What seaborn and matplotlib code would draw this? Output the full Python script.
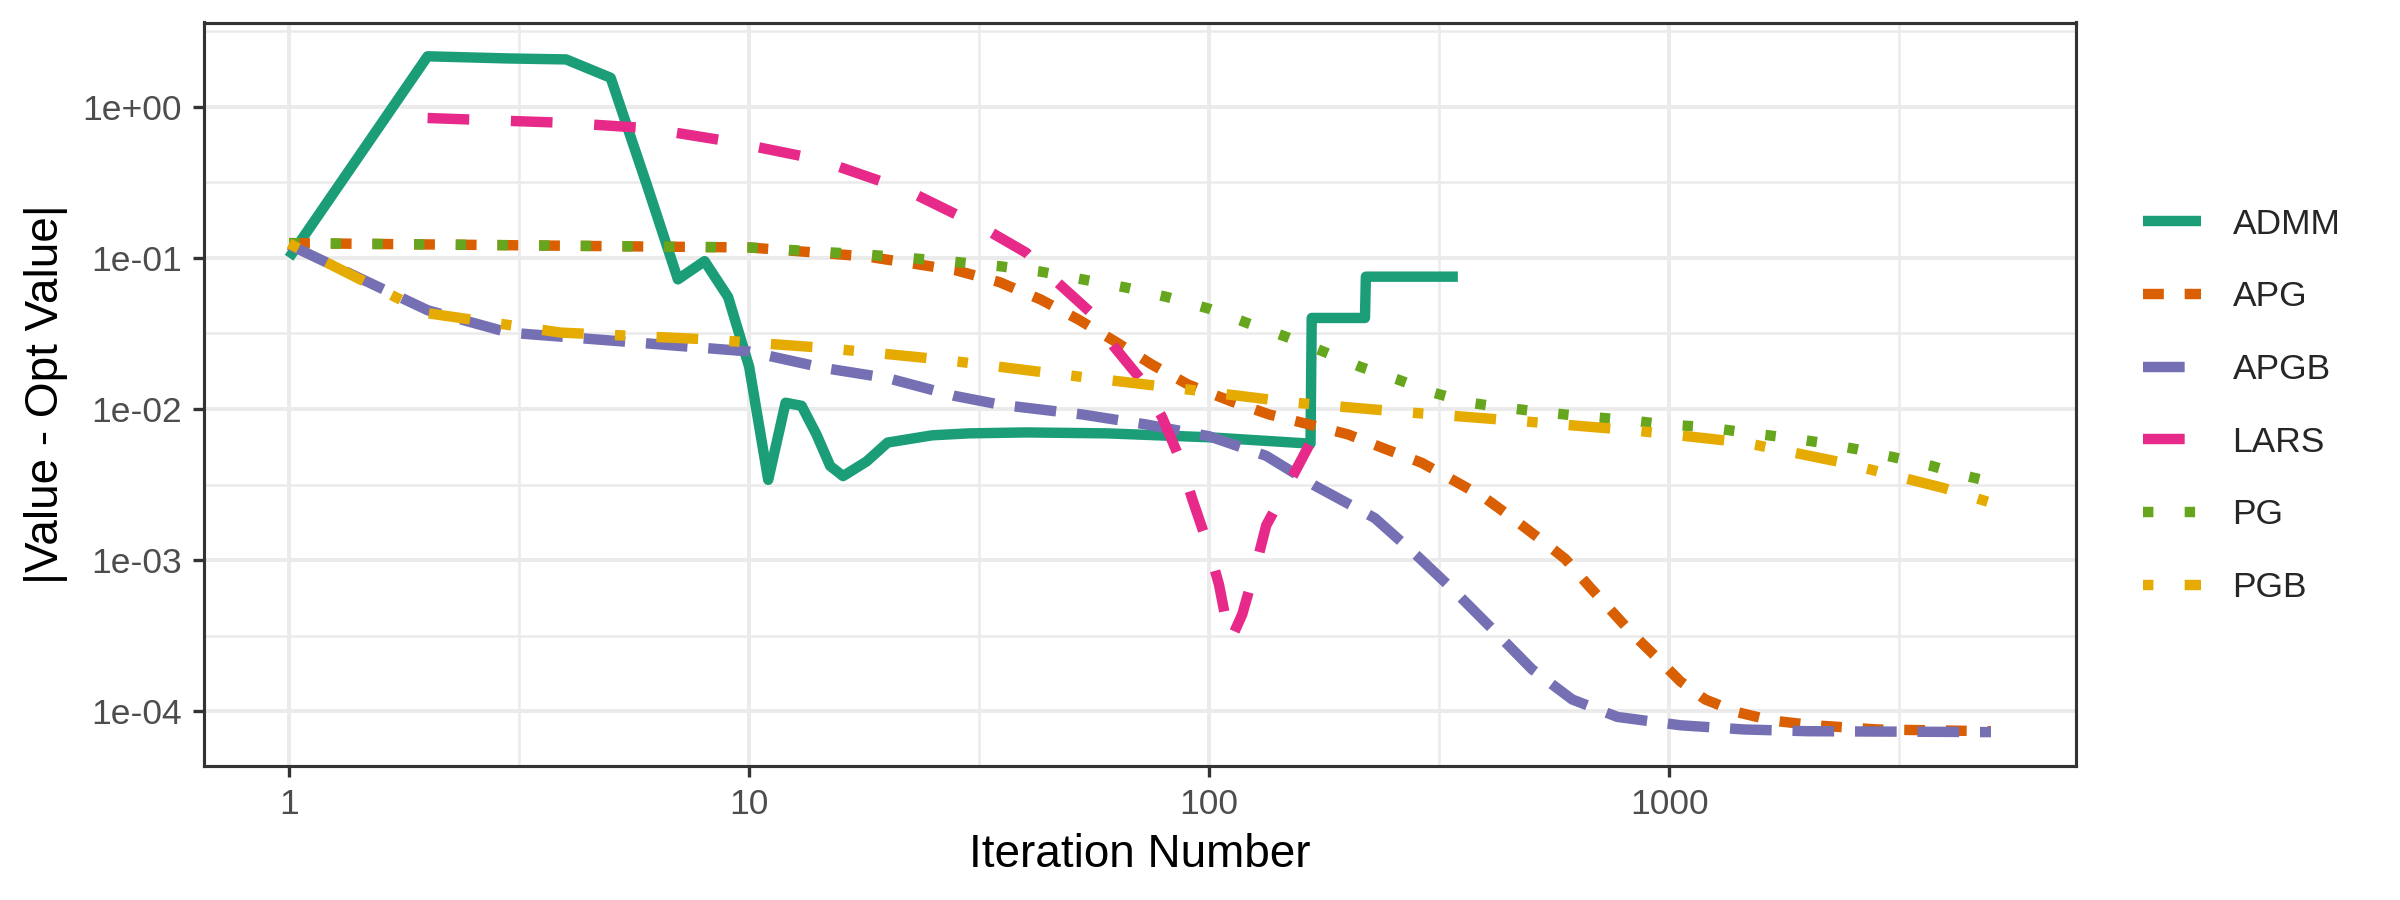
import numpy as np
import pandas as pd
import matplotlib
matplotlib.use("Agg")
import matplotlib.pyplot as plt
from matplotlib.lines import Line2D
import seaborn as sns

methods = ["ADMM", "APG", "APGB", "LARS", "PG", "PGB"]
colors = ["#1B9E77", "#D95F02", "#7570B3", "#E7298A", "#66A61E", "#E6AB02"]
dash_specs = ["", (2, 2), (4, 2), (4, 4), (1, 3), (1, 3, 4, 3)]

admm_iter = [1, 2, 3, 4, 5, 6, 7, 8, 9, 10, 11, 12, 13, 14, 15, 16, 18, 20,
             25, 30, 40, 60, 100, 166, 167, 218, 219, 347]
admm_gap = [0.1, 2.15, 2.08, 2.05, 1.55, 0.3, 0.072, 0.095, 0.055, 0.019,
            0.0034, 0.011, 0.0105, 0.0068, 0.0042, 0.0036, 0.0045, 0.006,
            0.0067, 0.0069, 0.007, 0.0069, 0.0065, 0.0059, 0.04, 0.04,
            0.075, 0.075]

apg_iter = [1, 10, 18, 28, 35, 43, 52, 63, 75, 90, 112, 135, 165, 200, 243,
            290, 338, 396, 456, 525, 594, 670, 745, 828, 935, 1057, 1197,
            1403, 1675, 2066, 2830, 5000]
apg_gap = [0.125, 0.117, 0.102, 0.083, 0.069, 0.053, 0.039, 0.0275, 0.0197,
           0.0145, 0.0112, 0.0092, 0.0079, 0.0068, 0.0054, 0.0044, 0.0034,
           0.0026, 0.0019, 0.00137, 0.00102, 0.00067, 0.00047, 0.00033,
           0.00023, 0.000158, 0.00012, 9.9e-05, 8.7e-05, 8.1e-05, 7.6e-05,
           7.4e-05]

apgb_iter = [1, 2, 3, 5.7, 10, 14.5, 20, 28, 35, 53, 73, 100, 133, 170, 229,
             283, 344, 425, 503, 615, 771, 1057, 1455, 2000, 5000]
apgb_gap = [0.122, 0.045, 0.032, 0.0275, 0.024, 0.0187, 0.016, 0.0122,
            0.0107, 0.0092, 0.0079, 0.0066, 0.0049, 0.0031, 0.0019, 0.00107,
            0.00061, 0.00032, 0.00019, 0.00012, 9.2e-05, 8.1e-05, 7.6e-05,
            7.4e-05, 7.3e-05]

lars_iter = [2, 4, 6, 9, 14, 22, 32, 40, 46, 55, 62, 71, 79, 86, 92, 99, 105,
             111, 118, 126, 133, 148, 165]
lars_gap = [0.84, 0.78, 0.72, 0.59, 0.45, 0.28, 0.16, 0.108, 0.072, 0.044,
            0.026, 0.0157, 0.0088, 0.0048, 0.0025, 0.0013, 0.00069, 0.00029,
            0.00044, 0.00089, 0.0017, 0.0031, 0.0058]

pg_iter = [1, 10, 18, 27, 35, 43, 53, 66, 81, 100, 121, 147, 177, 213, 255,
           305, 368, 441, 535, 660, 800, 980, 1200, 1460, 1780, 2130, 2570,
           3070, 3720, 4430, 5000]
pg_gap = [0.125, 0.117, 0.105, 0.095, 0.088, 0.081, 0.072, 0.0635, 0.055,
          0.046, 0.037, 0.03, 0.024, 0.019, 0.0158, 0.0129, 0.011, 0.0102,
          0.0095, 0.0089, 0.0085, 0.0079, 0.0076, 0.007, 0.0065, 0.006,
          0.0054, 0.0048, 0.0042, 0.0036, 0.0033]

pgb_iter = [1, 2, 3.9, 7.9, 14.5, 26, 47, 84, 154, 270, 480, 845, 1455, 2400,
            3950, 5000]
pgb_gap = [0.124, 0.043, 0.032, 0.029, 0.0254, 0.0213, 0.017, 0.0138, 0.011,
           0.0095, 0.0083, 0.0072, 0.006, 0.0044, 0.003, 0.0024]

x_ticks = [1, 10, 100, 1000]
x_tick_labels = ["1", "10", "100", "1000"]
y_ticks = [1, 0.1, 0.01, 0.001, 0.0001]
y_tick_labels = ["1e+00", "1e-01", "1e-02", "1e-03", "1e-04"]

series = {
    "ADMM": (admm_iter, admm_gap),
    "APG": (apg_iter, apg_gap),
    "APGB": (apgb_iter, apgb_gap),
    "LARS": (lars_iter, lars_gap),
    "PG": (pg_iter, pg_gap),
    "PGB": (pgb_iter, pgb_gap),
}
df = pd.concat(
    [pd.DataFrame({"iter": it, "gap": g, "method": m}) for m, (it, g) in series.items()],
    ignore_index=True,
)

sns.set_style("white")
plt.rcParams["font.family"] = ["Liberation Sans", "DejaVu Sans"]
plt.rcParams["lines.solid_capstyle"] = "butt"

fig, ax = plt.subplots(figsize=(16, 6), dpi=150)
fig.subplots_adjust(left=0.085, right=0.865, bottom=0.149, top=0.975)

lw = 5.0
sns.lineplot(data=df, x="iter", y="gap", hue="method", style="method",
             hue_order=methods, style_order=methods,
             palette=dict(zip(methods, colors)),
             dashes=dict(zip(methods, dash_specs)),
             estimator=None, linewidth=lw, legend=False, ax=ax)

ax.set_xscale("log")
ax.set_yscale("log")

# ggplot-like 5% expansion on the log scale
lx = np.log10([df["iter"].min(), df["iter"].max()])
ly = np.log10([df["gap"].min(), df["gap"].max()])
ex = 0.05 * (lx[1] - lx[0])
ey = 0.05 * (ly[1] - ly[0])

ax.set_xticks(x_ticks)
ax.set_xticklabels(x_tick_labels)
ax.set_xticks([10 ** (k + 0.5) for k in range(-1, 4)], minor=True)
ax.set_yticks(y_ticks)
ax.set_yticklabels(y_tick_labels)
ax.set_yticks([10 ** (k + 0.5) for k in range(-5, 1)], minor=True)
ax.set_xlim(10 ** (lx[0] - ex), 10 ** (lx[1] + ex))
ax.set_ylim(10 ** (ly[0] - ey), 10 ** (ly[1] + ey))

ax.grid(which="major", color="#EBEBEB", linewidth=1.9)
ax.grid(which="minor", color="#EBEBEB", linewidth=1.2)
ax.set_axisbelow(True)
ax.tick_params(which="major", length=5.5, width=1.6, color="#333333",
               labelsize=17, labelcolor="#4D4D4D", pad=5,
               bottom=True, left=True)
ax.tick_params(which="minor", length=0)
for sp in ax.spines.values():
    sp.set_color("#333333")
    sp.set_linewidth(1.5)

ax.set_xlabel("Iteration Number", fontsize=22, color="black", labelpad=6)
ax.set_ylabel("|Value - Opt Value|", fontsize=22, color="black", labelpad=7)

handles = [Line2D([0], [0], color=c, linewidth=lw, dashes=d if d else (None, None),
                  solid_capstyle="butt", dash_capstyle="butt")
           for c, d in zip(colors, dash_specs)]
fig.legend(handles, methods, loc="center left", bbox_to_anchor=(0.893, 0.549),
           frameon=False, fontsize=17, handlelength=1.64, handletextpad=0.88,
           labelspacing=1.12, borderpad=0, borderaxespad=0)

fig.savefig("out.png", dpi=150)
